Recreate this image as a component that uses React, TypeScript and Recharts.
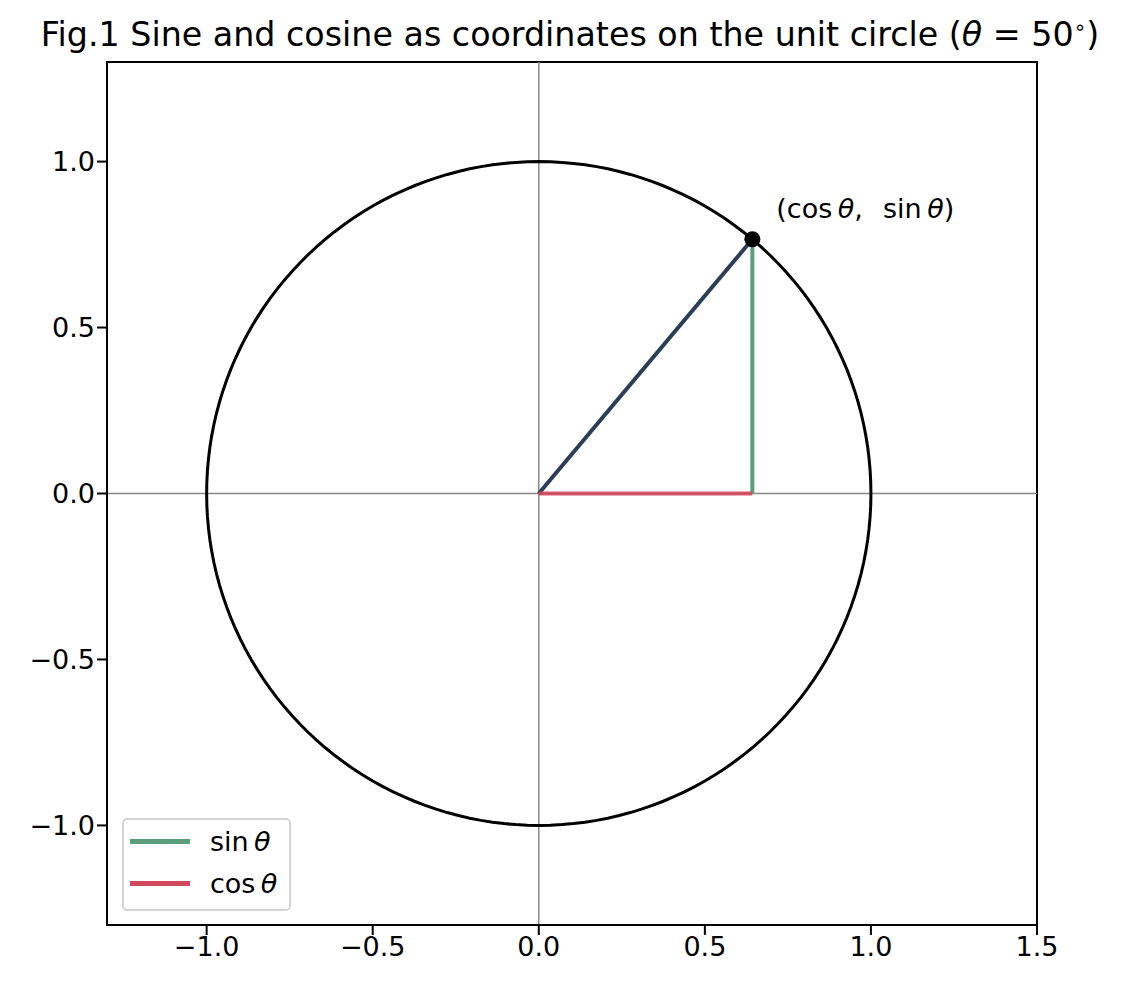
import React from 'react';
import { ComposedChart, Line, XAxis, YAxis, ReferenceLine, ReferenceArea, ReferenceDot, Legend } from 'recharts';

// angle in degrees
const thetaDeg = 50;

// values
const pointOnCircle = [{ x: 0.643, y: 0.766 }];
const radiusLine = [{ x: 0, y: 0 }, { x: 0.643, y: 0.766 }];
const sinLine = [{ x: 0.643, y: 0 }, { x: 0.643, y: 0.766 }];
const cosLine = [{ x: 0, y: 0 }, { x: 0.643, y: 0 }];

// unit circle, one point every 2 degrees
const circleAngles = Array.from({ length: 181 }, (_, i) => i * 2);
const unitCircle = circleAngles.map(a => ({
  x: Math.cos((a * Math.PI) / 180),
  y: Math.sin((a * Math.PI) / 180),
}));

const xTicks = [-1.0, -0.5, 0.0, 0.5, 1.0, 1.5];
const yTicks = [-1.0, -0.5, 0.0, 0.5, 1.0];
const xDomain = [-1.3, 1.5];
const yDomain = [-1.3, 1.3];

const legendItems = [
  { name: 'sin', color: '#5c9e7b' },
  { name: 'cos', color: '#d1475d' },
];

const FONT = '"DejaVu Sans", sans-serif';

const fmt = (v: number) => (v < 0 ? '\u2212' + Math.abs(v).toFixed(1) : v.toFixed(1));

const LegendBox = () => (
  <div
    style={{
      border: '2px solid #d4d4d4',
      borderRadius: 5,
      background: 'rgba(255,255,255,0.8)',
      padding: '0 0 5px 6px',
      fontFamily: FONT,
      fontSize: 27,
      width: 169,
      boxSizing: 'border-box',
      height: 93,
      whiteSpace: 'nowrap',
    }}
  >
    {legendItems.map(item => (
      <div key={item.name} style={{ display: 'flex', alignItems: 'center', height: 42 }}>
        <span style={{ display: 'inline-block', flexShrink: 0, width: 60, height: 5, background: item.color, marginRight: 20 }} />
        <span>
          {item.name}
          {'\u2009'}
          <i>θ</i>
        </span>
      </div>
    ))}
  </div>
);

const PointLabel = (props: any) => {
  const { viewBox } = props;
  return (
    <text x={viewBox.x + 5} y={viewBox.y + 10} fontFamily={FONT} fontSize={27} fill="#000" style={{ whiteSpace: 'pre' }}>
      (cos{'\u2009'}
      <tspan fontStyle="italic">θ</tspan>
      ,{'\u2002\u2005'}sin{'\u2009'}
      <tspan fontStyle="italic">θ</tspan>)
    </text>
  );
};

const App: React.FC = () => {
  return (
    <div style={{ position: 'absolute', left: 0, top: 0, width: 1124, height: 993, background: '#fff', fontFamily: FONT }}>
      <div
        style={{
          position: 'absolute',
          top: 15,
          left: 0,
          width: 1140,
          textAlign: 'center',
          fontSize: 33.3,
          color: '#000',
          whiteSpace: 'nowrap',
        }}
      >
        Fig.1 Sine and cosine as coordinates on the unit circle (<i>θ</i> = 50<sup style={{ fontSize: 20 }}>∘</sup>)
      </div>
      <ComposedChart width={1124} height={993} margin={{ top: 62, right: 87, bottom: 8, left: 7 }}>
        <XAxis
          type="number"
          dataKey="x"
          domain={xDomain}
          ticks={xTicks}
          allowDataOverflow
          tickFormatter={fmt}
          height={60}
          tickSize={10}
          stroke="#000"
          strokeWidth={2}
          tick={{ fill: '#000', fontSize: 27, fontFamily: FONT }}
        />
        <YAxis
          type="number"
          dataKey="y"
          domain={yDomain}
          ticks={yTicks}
          allowDataOverflow
          tickFormatter={fmt}
          width={100}
          tickSize={10}
          stroke="#000"
          strokeWidth={2}
          tick={{ fill: '#000', fontSize: 27, fontFamily: FONT }}
        />
        <ReferenceArea x1={xDomain[0]} x2={xDomain[1]} y1={yDomain[0]} y2={yDomain[1]} fill="none" stroke="#000" strokeWidth={2} fillOpacity={0} />
        <ReferenceLine x={0} stroke="#888" strokeWidth={1.5} />
        <ReferenceLine y={0} stroke="#888" strokeWidth={1.5} />
        <Line data={unitCircle} dataKey="y" type="linear" stroke="#000" strokeWidth={3} dot={false} isAnimationActive={false} />
        <Line data={radiusLine} dataKey="y" type="linear" stroke="#2b3e56" strokeWidth={4} dot={false} isAnimationActive={false} />
        <Line data={sinLine} dataKey="y" type="linear" stroke="#5c9e7b" strokeWidth={4} dot={false} isAnimationActive={false} />
        <Line data={cosLine} dataKey="y" type="linear" stroke="#d1475d" strokeOpacity={0.9} strokeWidth={4} dot={false} isAnimationActive={false} />
        <Line data={pointOnCircle} dataKey="y" stroke="none" dot={{ r: 8, fill: '#000', stroke: 'none' }} isAnimationActive={false} />
        <ReferenceDot x={0.7} y={0.86} r={0} fill="none" stroke="none" label={<PointLabel />} />
        <Legend
          layout="vertical"
          align="center"
          verticalAlign="middle"
          content={<LegendBox />}
          wrapperStyle={{ position: 'absolute', left: 122, top: 818, width: 'auto' }}
        />
      </ComposedChart>
    </div>
  );
};

export default App;
